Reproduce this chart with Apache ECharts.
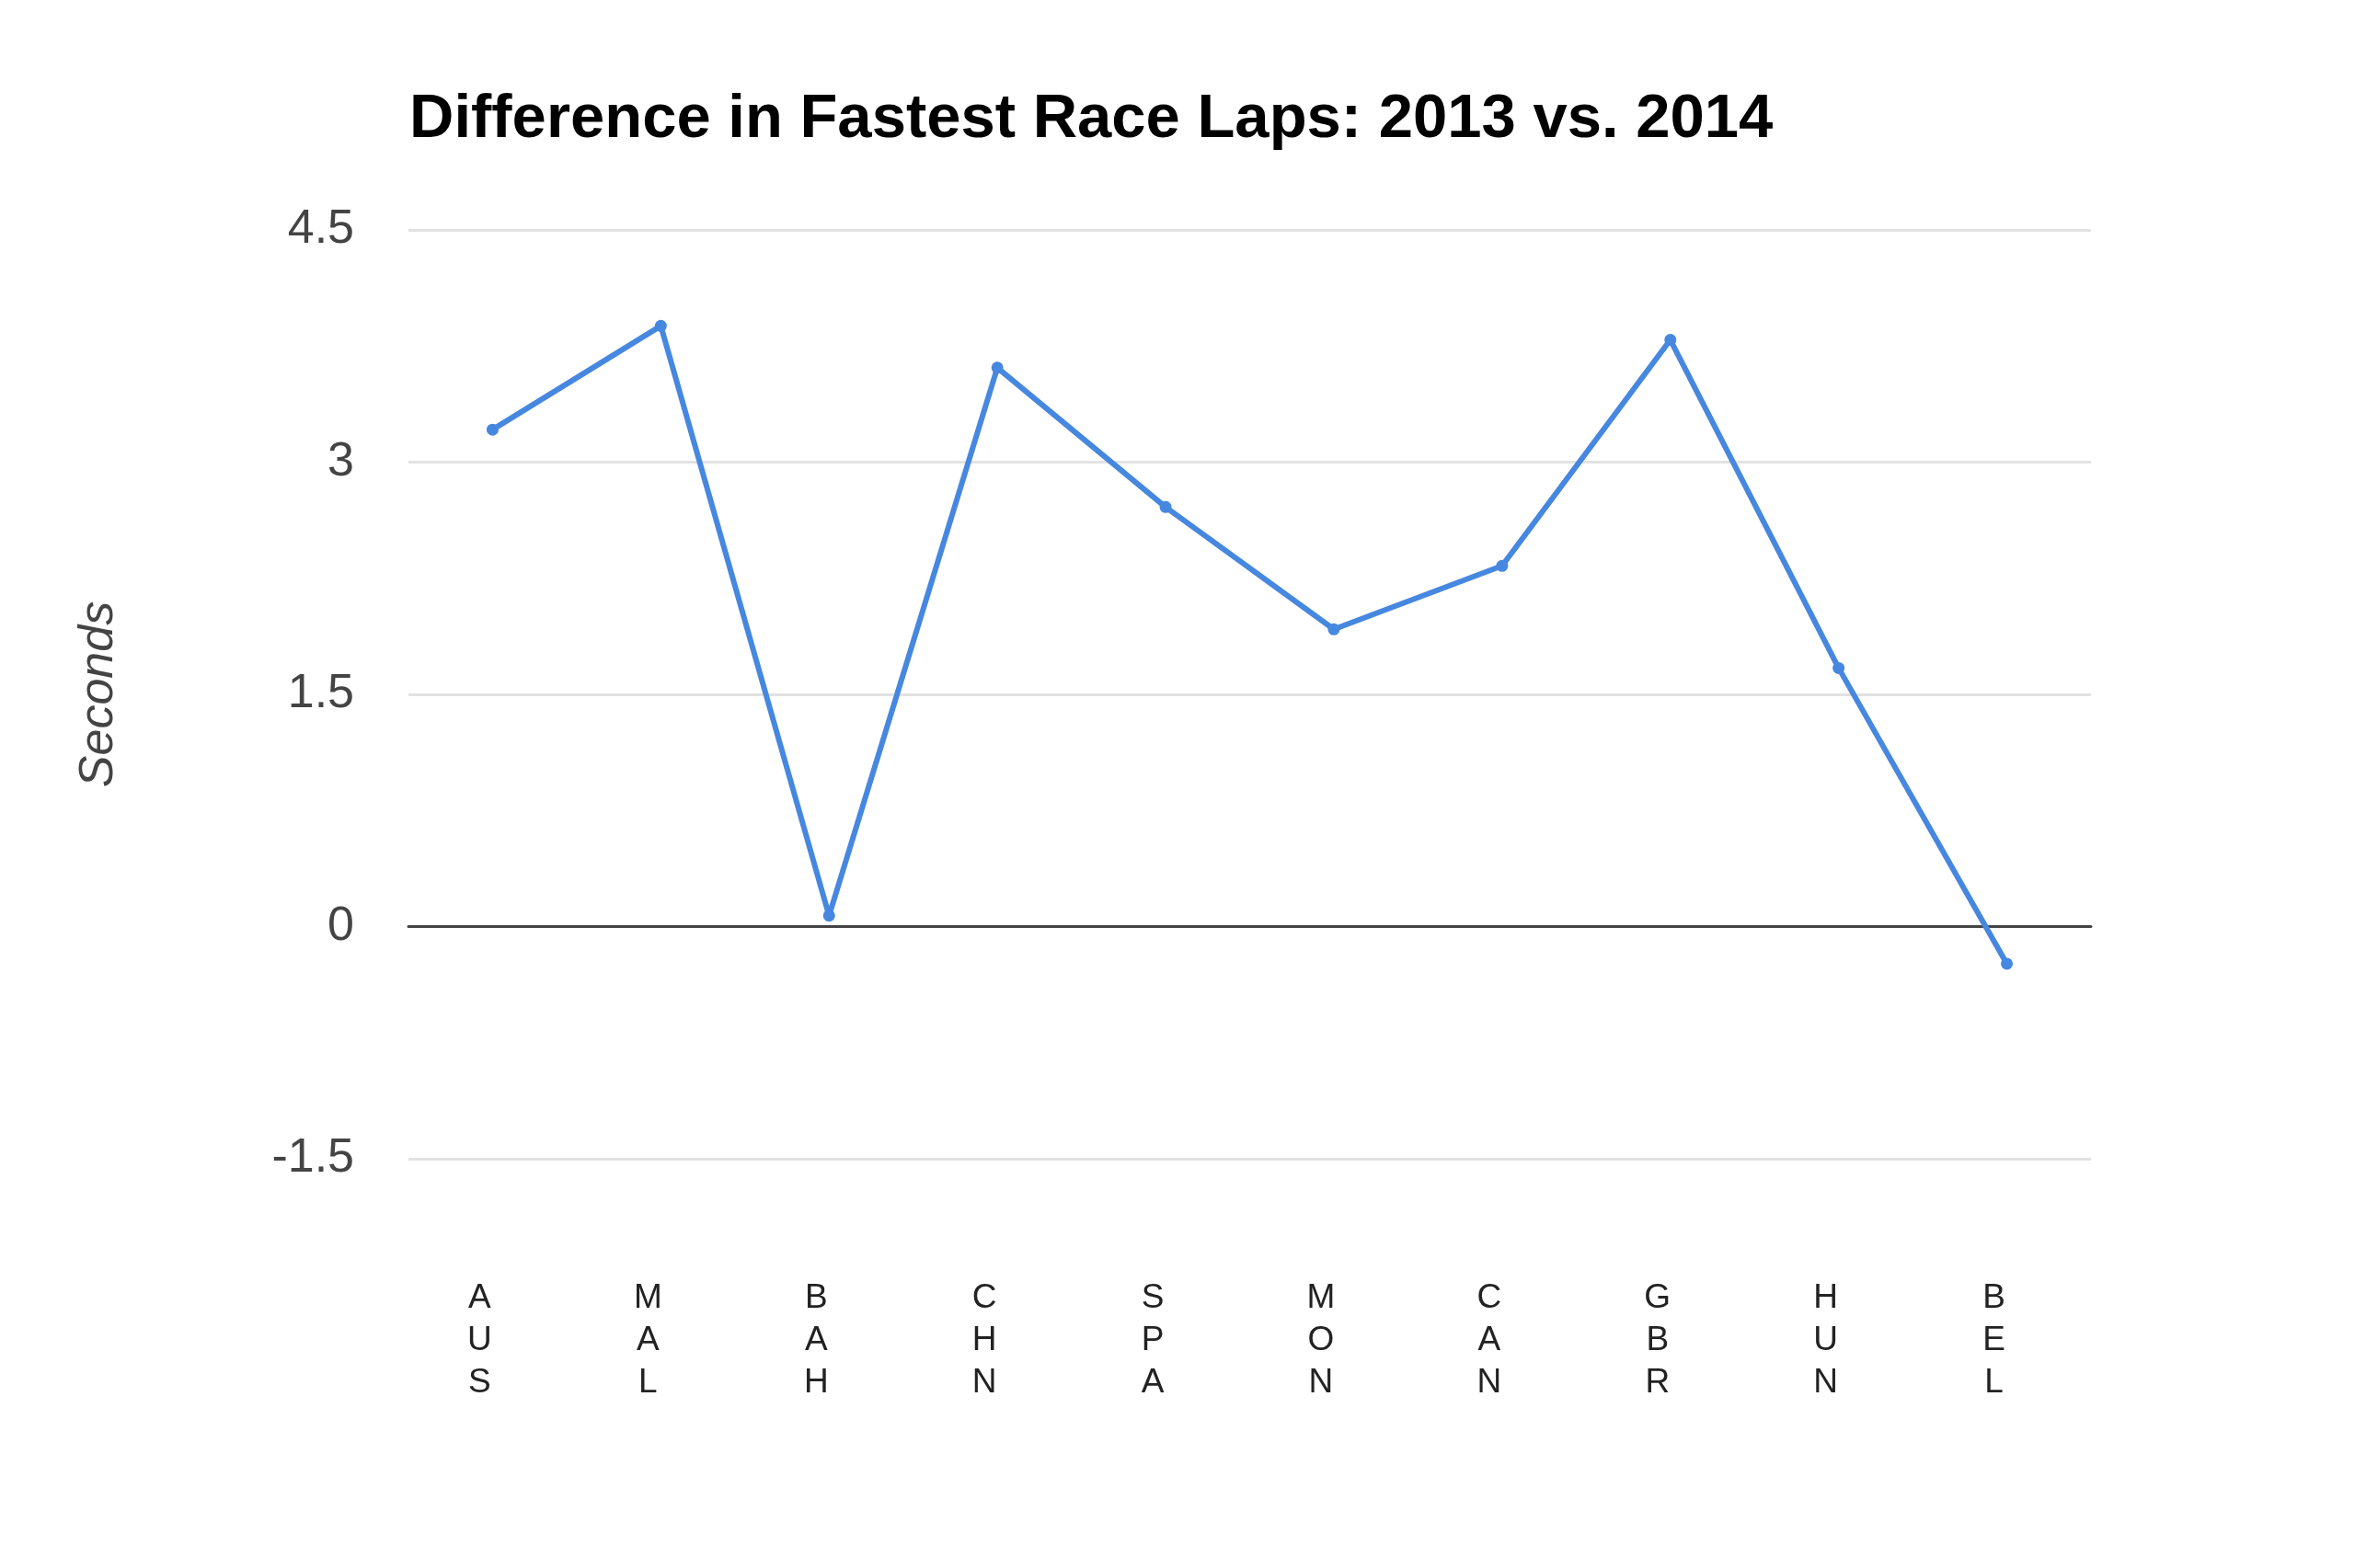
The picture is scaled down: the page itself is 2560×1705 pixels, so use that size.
<!DOCTYPE html>
<html>
<head>
<meta charset="utf-8">
<script src="https://cdn.jsdelivr.net/npm/echarts@6/dist/echarts.min.js"></script>
<style>
html,body{margin:0;padding:0;background:#fff;}
#chart{width:2560px;height:1705px;}
</style>
</head>
<body>
<div id="chart"></div>
<script>
var titleText = 'Difference in Fastest Race Laps: 2013 vs. 2014';
var categories = ['AUS','MAL','BAH','CHN','SPA','MON','CAN','GBR','HUN','BEL'];
var seconds = [3.21, 3.88, 0.07, 3.61, 2.71, 1.92, 2.33, 3.79, 1.67, -0.24];
var yTicks = { min: -1.5, max: 4.5, interval: 1.5 };
var yName = 'Seconds';

var chart = echarts.init(document.getElementById('chart'));
chart.setOption({
  backgroundColor: '#ffffff',
  animation: false,
  title: {
    text: titleText,
    left: 440,
    top: 92,
    textStyle: { fontFamily: 'Liberation Sans, Arial', fontSize: 67, fontWeight: 'bold', color: '#000' }
  },
  grid: { left: 444, right: 287, top: 250, bottom: 445, containLabel: false },
  xAxis: {
    type: 'category',
    data: categories,
    boundaryGap: true,
    axisLine: { show: true, onZero: true, lineStyle: { color: '#444', width: 3 } },
    axisTick: { show: false },
    splitLine: { show: false },
    axisLabel: {
      interval: 0,
      margin: 129,
      fontFamily: 'Liberation Sans, Arial',
      fontSize: 37,
      lineHeight: 46,
      color: '#222',
      padding: [0, 28, 0, 0],
      formatter: function (v) { return v.split('').join('\n'); }
    }
  },
  yAxis: {
    type: 'value',
    min: yTicks.min,
    max: yTicks.max,
    interval: yTicks.interval,
    name: yName,
    nameLocation: 'middle',
    nameRotate: 90,
    nameGap: 310,
    nameTextStyle: { fontFamily: 'Liberation Sans, Arial', fontSize: 52, fontStyle: 'italic', color: '#444' },
    axisLine: { show: false },
    axisTick: { show: false },
    axisLabel: { margin: 59, fontFamily: 'Liberation Sans, Arial', fontSize: 52, color: '#444' },
    splitLine: { show: true, lineStyle: { color: '#e2e2e2', width: 3 } }
  },
  series: [{
    type: 'line',
    data: seconds,
    symbol: 'circle',
    symbolSize: 13,
    showAllSymbol: true,
    lineStyle: { color: '#4687e0', width: 6 },
    itemStyle: { color: '#4687e0' }
  }]
});
</script>
</body>
</html>
